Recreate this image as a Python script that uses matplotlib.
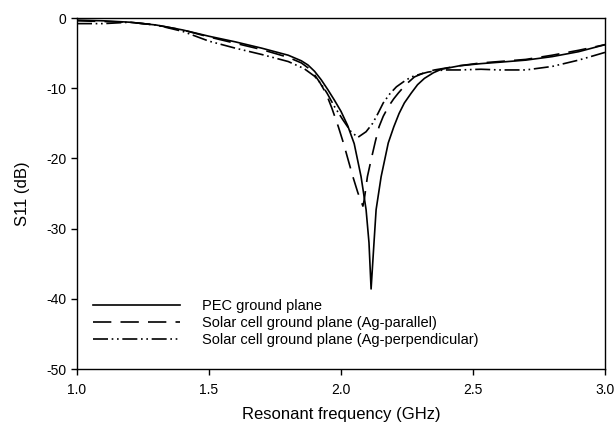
import matplotlib
matplotlib.use("Agg")
import matplotlib.pyplot as plt

plt.rcParams['font.family'] = ['Liberation Sans', 'DejaVu Sans']
plt.rcParams['axes.unicode_minus'] = False

LABEL_PEC = "PEC ground plane"
LABEL_PAR = "Solar cell ground plane (Ag-parallel)"
LABEL_PERP = "Solar cell ground plane (Ag-perpendicular)"

# values
freq_pec = [1.0, 1.1, 1.2, 1.3, 1.4, 1.5, 1.6, 1.7, 1.8, 1.85, 1.875, 1.9, 1.925, 1.95,
            1.975, 2.0, 2.025, 2.05, 2.076, 2.095, 2.106, 2.114, 2.125, 2.133, 2.152,
            2.179, 2.2, 2.22, 2.24, 2.266, 2.29, 2.316, 2.35, 2.38, 2.45, 2.53, 2.6,
            2.7, 2.8, 2.9, 3.0]
s11_pec = [-0.3, -0.4, -0.6, -1.0, -1.7, -2.6, -3.4, -4.3, -5.3, -6.1, -6.7, -7.6,
           -8.8, -10.2, -11.7, -13.3, -15.3, -17.9, -22.6, -27.3, -32.0, -38.6, -32.0,
           -27.3, -22.6, -17.8, -15.5, -13.6, -12.1, -10.7, -9.5, -8.6, -7.8, -7.3,
           -6.8, -6.5, -6.3, -6.0, -5.5, -4.8, -3.8]

freq_par = [1.0, 1.1, 1.2, 1.3, 1.4, 1.5, 1.6, 1.7, 1.8, 1.85, 1.875, 1.9, 1.92, 1.943,
            1.965, 1.99, 2.01, 2.027, 2.045, 2.064, 2.083, 2.088, 2.1, 2.114, 2.13,
            2.144, 2.16, 2.18, 2.2, 2.217, 2.245, 2.278, 2.315, 2.354, 2.45, 2.53, 2.6,
            2.7, 2.8, 2.9, 3.0]
s11_par = [-0.4, -0.5, -0.6, -1.0, -1.7, -2.7, -3.6, -4.5, -5.6, -6.4, -7.1, -8.1,
           -9.2, -10.7, -12.8, -15.5, -17.9, -20.2, -22.6, -24.9, -26.8, -25.9, -22.6,
           -20.2, -17.6, -15.5, -14.0, -12.6, -11.5, -10.7, -9.5, -8.4, -7.8, -7.4,
           -6.8, -6.4, -6.2, -5.9, -5.3, -4.6, -3.8]

freq_perp = [1.0, 1.1, 1.2, 1.3, 1.4, 1.5, 1.6, 1.7, 1.8, 1.86, 1.9, 1.925, 1.947,
             1.975, 2.007, 2.038, 2.064, 2.095, 2.12, 2.14, 2.16, 2.185, 2.21, 2.24,
             2.266, 2.3, 2.33, 2.39, 2.45, 2.53, 2.6, 2.7, 2.8, 2.9, 3.0]
s11_perp = [-0.8, -0.8, -0.6, -1.0, -1.9, -3.3, -4.3, -5.2, -6.2, -7.2, -8.3, -9.4,
            -10.7, -12.6, -14.5, -16.2, -17.0, -16.2, -15.0, -13.6, -12.1, -10.8, -9.8,
            -9.0, -8.4, -8.0, -7.7, -7.4, -7.4, -7.3, -7.4, -7.4, -6.9, -6.0, -4.9]

fig = plt.figure(figsize=(6.14, 4.23), dpi=100)
ax = fig.add_axes([77 / 614, 1 - 369 / 423, 528 / 614, 351 / 423])

ax.plot(freq_pec, s11_pec, color='black', linewidth=1.2, linestyle='-', label=LABEL_PEC)
ax.plot(freq_par, s11_par, color='black', linewidth=1.2, linestyle=(0, (11, 5.5)),
        label=LABEL_PAR)
ax.plot(freq_perp, s11_perp, color='black', linewidth=1.2,
        linestyle=(0, (9, 2.2, 1, 2.2, 1, 2.2)), label=LABEL_PERP)

ax.set_xlim(1.0, 3.0)
ax.set_ylim(-50, 0)
ax.set_xticks([1.0, 1.5, 2.0, 2.5, 3.0])
ax.set_xticklabels(['1.0', '1.5', '2.0', '2.5', '3.0'])
ax.set_yticks([0, -10, -20, -30, -40, -50])
ax.tick_params(direction='out', length=4, width=1, labelsize=10, top=False, right=False)
ax.tick_params(axis='x', pad=6)
for sp in ax.spines.values():
    sp.set_linewidth(1.0)

ax.set_xlabel("Resonant frequency (GHz)", fontsize=12, labelpad=7)
ax.set_ylabel("S11 (dB)", fontsize=12, labelpad=12)

ax.legend(loc='upper left', bbox_to_anchor=(0.019, 0.216), frameon=False, fontsize=10.5,
          handlelength=6.0, handletextpad=1.5, labelspacing=0.2, borderaxespad=0)

fig.savefig("out.png", dpi=100)
